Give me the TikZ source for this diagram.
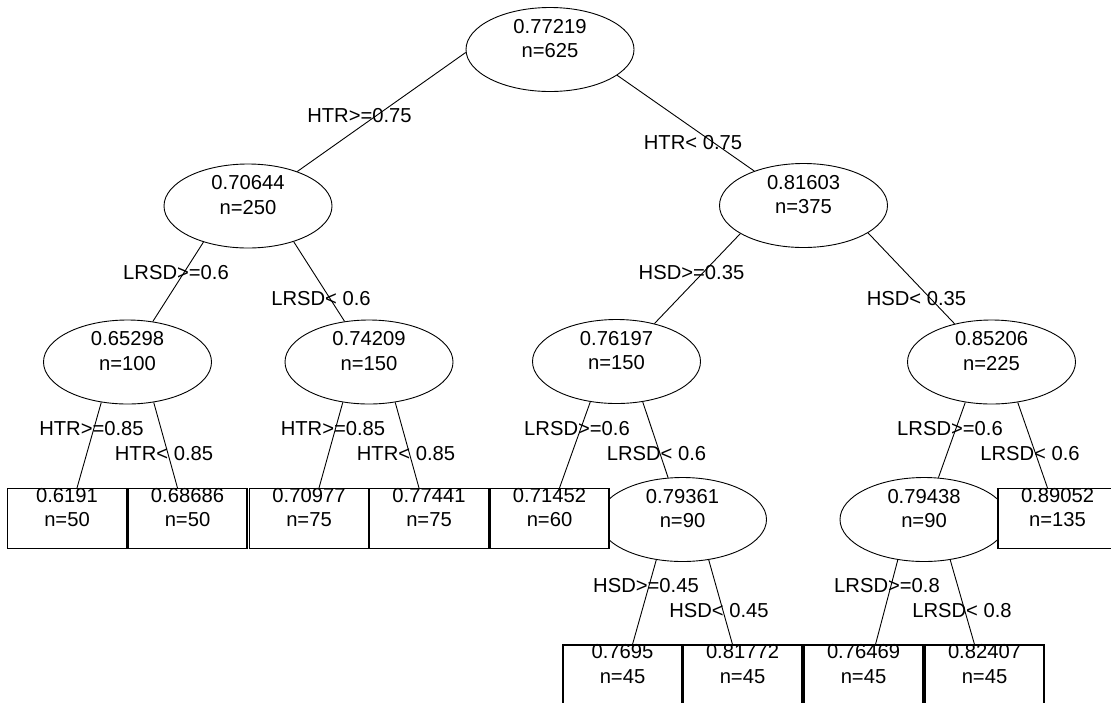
\documentclass[tikz,border=0pt]{standalone}
\usepackage{fontspec}
\setmainfont{Liberation Sans}
\usetikzlibrary{shapes.geometric,calc}
\newcommand{\twol}[2]{\raisebox{-8pt}[0pt][0pt]{\begin{tabular}[b]{@{}c@{}}#1\\#2\end{tabular}}}
\begin{document}
\begin{tikzpicture}[x=1pt,y=-1pt,
  every node/.style={font=\fontsize{20.2}{24.5}\selectfont},
  ell/.style={ellipse,draw,minimum width=168pt,minimum height=84pt,inner sep=0pt,line width=0.9pt},
  leaf/.style={rectangle,draw,fill=white,minimum width=119pt,minimum height=60pt,inner sep=0pt,line width=1.1pt},
  edge/.style={draw,line width=0.9pt},
  lab/.style={anchor=base,inner sep=0pt}]
\fill[white] (0,0) rectangle (1111,702);
\useasboundingbox (0,0) rectangle (1111,702);
% inner nodes
\node[ell] (R) at (550,49.5) {\twol{0.77219}{n=625}};
\node[ell] (A) at (248,206) {\twol{0.70644}{n=250}};
\node[ell] (B) at (803.5,205.5) {\twol{0.81603}{n=375}};
\node[ell] (C) at (127.5,362) {\twol{0.65298}{n=100}};
\node[ell] (D) at (369,362) {\twol{0.74209}{n=150}};
\node[ell] (E) at (616.5,361.5) {\twol{0.76197}{n=150}};
\node[ell] (F) at (991.5,362) {\twol{0.85206}{n=225}};
\node[ell] (G) at (682.5,519.5) {\twol{0.79361}{n=90}};
\node[ell] (H) at (924,519.5) {\twol{0.79438}{n=90}};
% leaves
\node[leaf] (L1) at (67,518.5) {\twol{0.6191}{n=50}};
\node[leaf] (L2) at (187.5,518.5) {\twol{0.68686}{n=50}};
\node[leaf] (L3) at (309,518.5) {\twol{0.70977}{n=75}};
\node[leaf] (L4) at (429,518.5) {\twol{0.77441}{n=75}};
\node[leaf] (L5) at (549.5,518.5) {\twol{0.71452}{n=60}};
\node[leaf] (L6) at (1057.5,518.5) {\twol{0.89052}{n=135}};
\node[leaf] (L7) at (622.5,675) {\twol{0.7695}{n=45}};
\node[leaf] (L8) at (742.5,675) {\twol{0.81772}{n=45}};
\node[leaf] (L9) at (863.5,675) {\twol{0.76469}{n=45}};
\node[leaf] (L10) at (984.5,675) {\twol{0.82407}{n=45}};
% edges
\draw[edge] (R.182) -- (A.35);
\draw[edge] (R.339) -- (B.145);
\draw[edge] (A.219) -- (C.58);
\draw[edge] (A.322) -- (D.121);
\draw[edge] (B.204.6) -- (E.45);
\draw[edge] (B.337) -- (F.134);
\draw[edge] (C.237) -- ($(L1.north)+(10,0)$);
\draw[edge] (C.303) -- ($(L2.north)+(-10,0)$);
\draw[edge] (D.237) -- ($(L3.north)+(10,0)$);
\draw[edge] (D.303) -- ($(L4.north)+(-10,0)$);
\draw[edge] (E.237) -- ($(L5.north)+(10,0)$);
\draw[edge] (E.303) -- (G.109);
\draw[edge] (F.237) -- (H.71);
\draw[edge] (F.303) -- ($(L6.north)+(-10,0)$);
\draw[edge] (G.237) -- ($(L7.north)+(10,0)$);
\draw[edge] (G.303) -- ($(L8.north)+(-10,0)$);
\draw[edge] (H.237) -- ($(L9.north)+(12,0)$);
\draw[edge] (H.303) -- ($(L10.north)+(-10,0)$);
% labels
\node[lab] (eRA) at (359.5,122.2) {HTR>=0.75};
\node[lab] (eRB) at (693,149.2) {HTR< 0.75};
\node[lab] (eAC) at (176,279.2) {LRSD>=0.6};
\node[lab] (eAD) at (321,305.2) {LRSD< 0.6};
\node[lab] (eBE) at (691.5,279.2) {HSD>=0.35};
\node[lab] (eBF) at (916.5,305.2) {HSD< 0.35};
\node[lab] (eC1) at (91.5,435.2) {HTR>=0.85};
\node[lab] (eC2) at (164,460.2) {HTR< 0.85};
\node[lab] (eD3) at (333,435.2) {HTR>=0.85};
\node[lab] (eD4) at (406,460.2) {HTR< 0.85};
\node[lab] (eE5) at (577,435.2) {LRSD>=0.6};
\node[lab] (eEG) at (656.5,460.2) {LRSD< 0.6};
\node[lab] (eFH) at (950,435.2) {LRSD>=0.6};
\node[lab] (eF6) at (1030,460.2) {LRSD< 0.6};
\node[lab] (eG7) at (646,592.2) {HSD>=0.45};
\node[lab] (eG8) at (719,617.2) {HSD< 0.45};
\node[lab] (eH9) at (887,592.2) {LRSD>=0.8};
\node[lab] (eH10) at (962,617.2) {LRSD< 0.8};
\end{tikzpicture}
\end{document}
